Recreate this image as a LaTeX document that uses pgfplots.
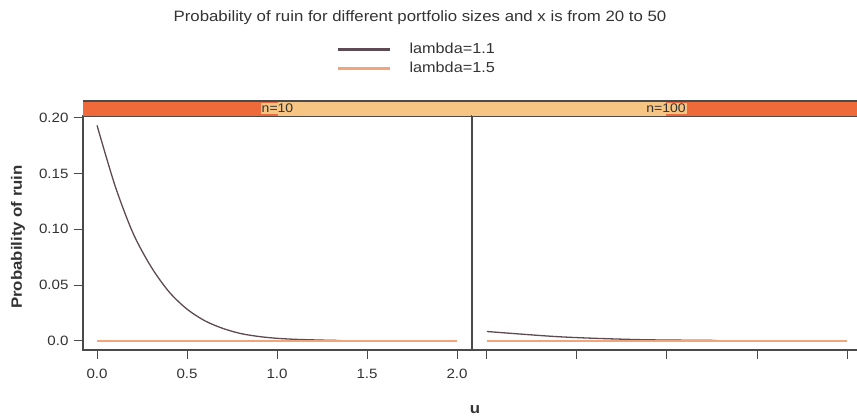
\documentclass[border=0pt]{standalone}
\usepackage{fontspec}
\setmainfont{Liberation Sans}[FakeStretch=1.12]
\usepackage{pgfplots}
\pgfplotsset{compat=1.18}
\definecolor{lamA}{HTML}{5E4A52}
\definecolor{lamB}{HTML}{F2A47A}
\definecolor{stripdark}{HTML}{EE6A3A}
\definecolor{striplight}{HTML}{F6C483}
\definecolor{axcol}{HTML}{4A4A4A}
\definecolor{txtcol}{HTML}{333333}
\begin{document}
\begin{tikzpicture}[x=1pt,y=1pt]
\path[use as bounding box] (0,0) rectangle (857,418);
\pgfplotsset{
  panel/.style={
    scale only axis, height=234pt,
    ymin=-0.00806, ymax=0.2014,
    axis line style={axcol, line width=1.1pt},
    tick style={axcol, line width=1pt},
    major tick length=9pt, tick align=outside,
    xtick={0,0.5,1,1.5,2},
    xtick pos=bottom,
    ticklabel style={font=\fontsize{13.5}{13.5}\selectfont, text=txtcol},
    xticklabel style={yshift=-7pt},
    yticklabel style={xshift=-2pt},
    clip=false,
  },
}
% left panel n=10
\begin{axis}[panel, at={(83pt,68pt)}, anchor=south west, width=389pt,
  xmin=-0.078, xmax=2.083,
  xticklabels={0.0,0.5,1.0,1.5,2.0},
  ytick={0,0.05,0.10,0.15,0.20}, yticklabels={0.0,0.05,0.10,0.15,0.20},
  ytick pos=left,
  legend style={at={(axis description cs:0.65,1.318)}, anchor=north west,
    draw=none, fill=none, font=\fontsize{14.5}{14.5}\selectfont,
    row sep=4pt, inner sep=0pt, nodes={inner sep=1.5pt, text=txtcol}},
  legend cell align=left,
  legend image code/.code={\draw[#1, line width=3pt] (0pt,0pt) -- (52pt,0pt);},
  legend style={/tikz/every even column/.append style={column sep=0pt}},
]
\fill[striplight] (axis description cs:0,1) rectangle (axis description cs:1,1.064);
\fill[stripdark] (axis description cs:0,1) rectangle (axis description cs:0.5,1.064);
\node[fill=striplight, inner sep=1pt, font=\fontsize{12.5}{12.5}\selectfont, text=txtcol] at (axis description cs:0.5,1.032) {n=10};
\draw[axcol, line width=1.1pt] (axis description cs:0,1.064) -- (axis description cs:1,1.064);
\draw[axcol, line width=0.8pt] (axis description cs:0,1) -- (axis description cs:1,1);
\addplot[lamA, line width=1.3pt, smooth] coordinates {
 (0,0.193) (0.1,0.139) (0.2,0.0965) (0.3,0.0665) (0.4,0.0440)
 (0.5,0.0285) (0.6,0.0180) (0.7,0.0112) (0.8,0.0066) (0.9,0.0040)
 (1.0,0.0024) (1.1,0.0015) (1.2,0.0010) (1.3,0.0006) (1.35,0.0005)};
\addlegendentry{\hspace{17pt}lambda=1.1}
\addplot[lamB, line width=1.1pt] coordinates {
 (0,0) (0.5,0) (1.0,0) (1.5,0) (2.0,0)};
\addlegendentry{\hspace{17pt}lambda=1.5}
\end{axis}
% right panel n=100
\begin{axis}[panel, at={(472pt,68pt)}, anchor=south west, width=388pt,
  xmin=-0.083, xmax=2.072,
  xticklabels={},
  ytick=\empty,
]
\fill[striplight] (axis description cs:0,1) rectangle (axis description cs:1,1.064);
\fill[stripdark] (axis description cs:0.5,1) rectangle (axis description cs:1,1.064);
\node[fill=striplight, inner sep=1pt, font=\fontsize{12.5}{12.5}\selectfont, text=txtcol] at (axis description cs:0.5,1.032) {n=100};
\draw[axcol, line width=1.1pt] (axis description cs:0,1.064) -- (axis description cs:1,1.064);
\draw[axcol, line width=0.8pt] (axis description cs:0,1) -- (axis description cs:1,1);
\addplot[lamA, line width=1.3pt, smooth] coordinates {
 (0,0.0085) (0.22,0.0058) (0.4,0.0038) (0.6,0.0024) (0.85,0.0012)
 (1.05,0.0008) (1.28,0.0005)};
\addplot[lamB, line width=1.1pt] coordinates {
 (0,0) (0.5,0) (1.0,0) (1.5,0) (2.0,0)};
\end{axis}
\node[font=\fontsize{15}{15}\selectfont, text=txtcol] at (420,400) {Probability of ruin for different portfolio sizes and x is from 20 to 50};
\node[rotate=90, font=\bfseries\fontsize{15}{15}\selectfont, text=txtcol] at (18,181) {Probability of ruin};
\node[font=\bfseries\fontsize{15}{15}\selectfont, text=txtcol] at (475,8) {u};
\end{tikzpicture}
\end{document}
